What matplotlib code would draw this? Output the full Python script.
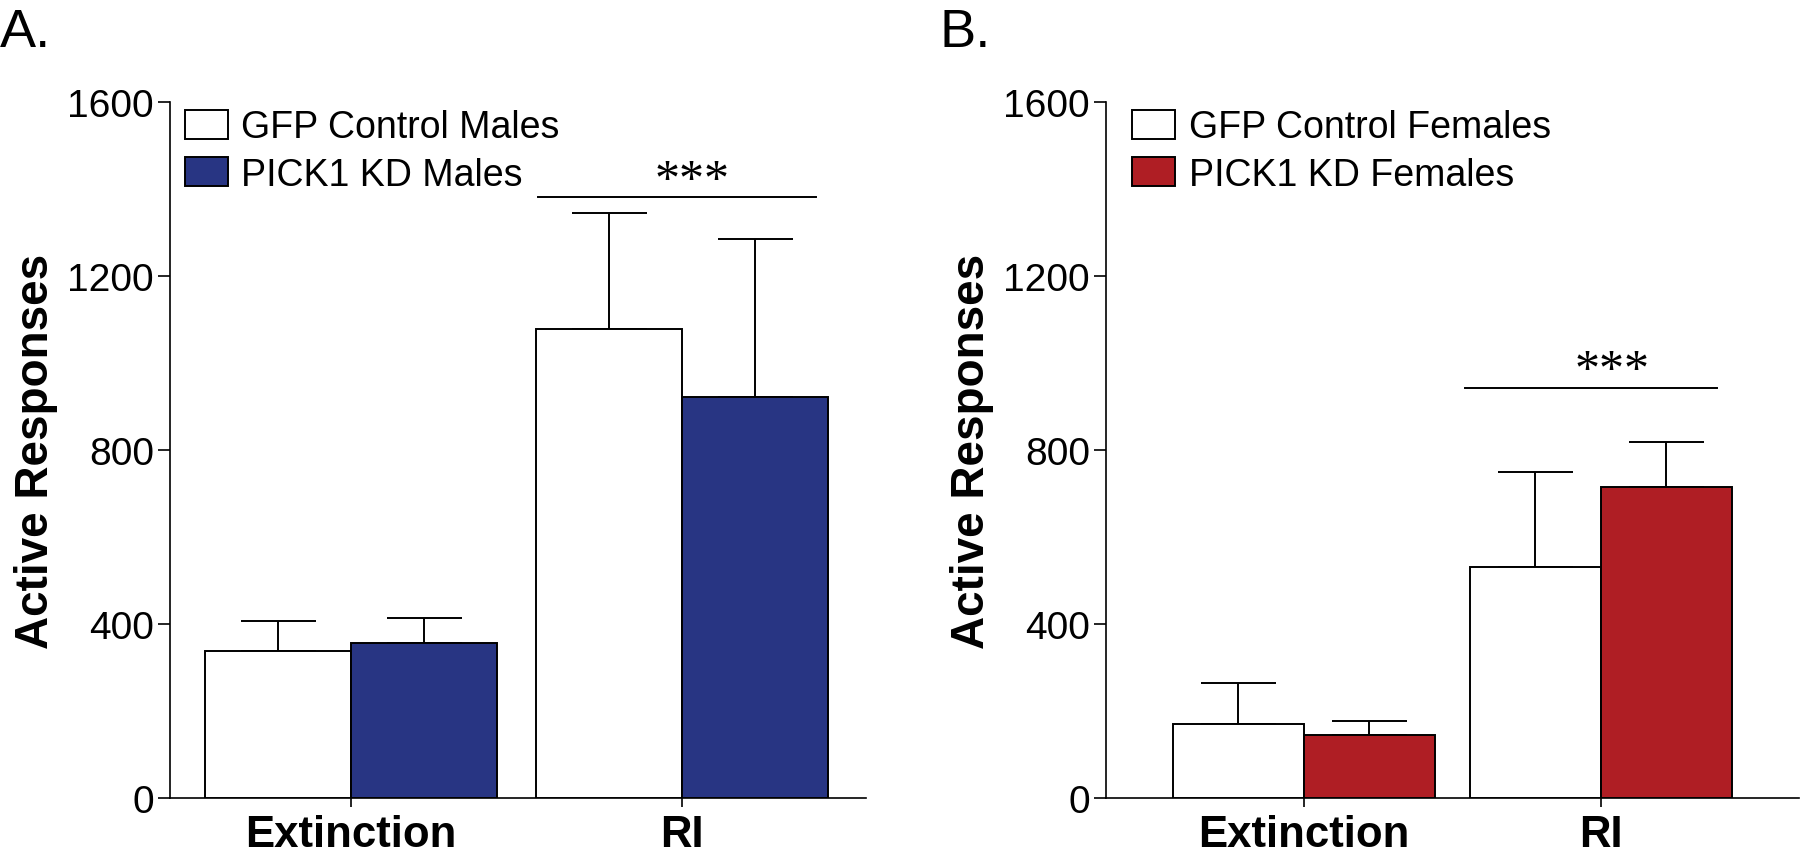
import numpy as np
import matplotlib
matplotlib.use("Agg")
import matplotlib.pyplot as plt
from matplotlib.patches import Patch

plt.rcParams['font.family'] = ['Liberation Sans', 'DejaVu Sans']

categories = ["Extinction", "RI"]

males_gfp = [337, 1078]
males_gfp_sem = [71, 267]
males_kd = [356, 923]
males_kd_sem = [57, 363]

females_gfp = [171, 531]
females_gfp_sem = [94, 218]
females_kd = [146, 715]
females_kd_sem = [31, 104]

labels_a = ["GFP Control Males", "PICK1 KD Males"]
labels_b = ["GFP Control Females", "PICK1 KD Females"]

blue = "#283583"
red = "#AF1E24"


def panel(ax, gfp, gfp_sem, kd, kd_sem, color, labels, width, xlim,
          sig_x, sig_y, star_x, star_y, leg_anchor):
    x = np.arange(len(categories))
    for vals, sem, off, fc in [(gfp, gfp_sem, -width / 2, "white"),
                               (kd, kd_sem, width / 2, color)]:
        ax.bar(x + off, vals, width, color=fc, edgecolor="black",
               linewidth=1.4, zorder=3)
        ax.errorbar(x + off, vals, yerr=[np.zeros(len(vals)), sem],
                    fmt="none", ecolor="black", elinewidth=1.4,
                    capsize=27, capthick=1.4, zorder=2)
    ax.set_xlim(*xlim)
    ax.set_ylim(0, 1600)
    ax.set_yticks([0, 400, 800, 1200, 1600])
    ax.set_xticks(x)
    ax.set_xticklabels(categories, fontsize=31.5, fontweight="bold")
    ax.tick_params(axis="y", labelsize=28, length=8.5, width=1.2, pad=3)
    ax.tick_params(axis="x", length=6.5, width=1.2, pad=5)
    for s in ["top", "right"]:
        ax.spines[s].set_visible(False)
    for s in ["left", "bottom"]:
        ax.spines[s].set_linewidth(1.2)
    ax.set_ylabel("Active Responses", fontsize=33, fontweight="bold",
                  labelpad=7)

    # significance bar
    ax.plot(sig_x, [sig_y, sig_y], color="black", linewidth=1.4,
            clip_on=False)
    ax.text(star_x, star_y, "***", ha="center", va="baseline",
            fontsize=36, family=["Liberation Serif", "DejaVu Serif"])

    handles = [Patch(facecolor="white", edgecolor="black", linewidth=1.4),
               Patch(facecolor=color, edgecolor="black", linewidth=1.4)]
    ax.legend(handles, labels, loc="upper left", bbox_to_anchor=leg_anchor,
              frameon=False, fontsize=27, handlelength=1.15,
              handleheight=0.8, handletextpad=0.35, labelspacing=0.3,
              borderpad=0, borderaxespad=0)


fig = plt.figure(figsize=(18, 8.53), dpi=100)
ax_a = fig.add_axes([0.0944, 0.0633, 0.3867, 0.8156])
ax_b = fig.add_axes([0.6144, 0.0633, 0.385, 0.8156])

panel(ax_a, males_gfp, males_gfp_sem, males_kd, males_kd_sem, blue,
      labels_a, 0.44, (-0.547, 1.556), [0.566, 1.405], 1382, 1.03, 1391,
      (0.022, 0.99))
panel(ax_b, females_gfp, females_gfp_sem, females_kd, females_kd_sem, red,
      labels_b, 0.441, (-0.667, 1.667), [0.543, 1.39], 942, 1.037, 955,
      (0.038, 0.99))

fig.text(0.0, 0.945, "A.", fontsize=39, va="baseline", ha="left")
fig.text(0.522, 0.945, "B.", fontsize=39, va="baseline", ha="left")

fig.savefig("out.png", dpi=100)
